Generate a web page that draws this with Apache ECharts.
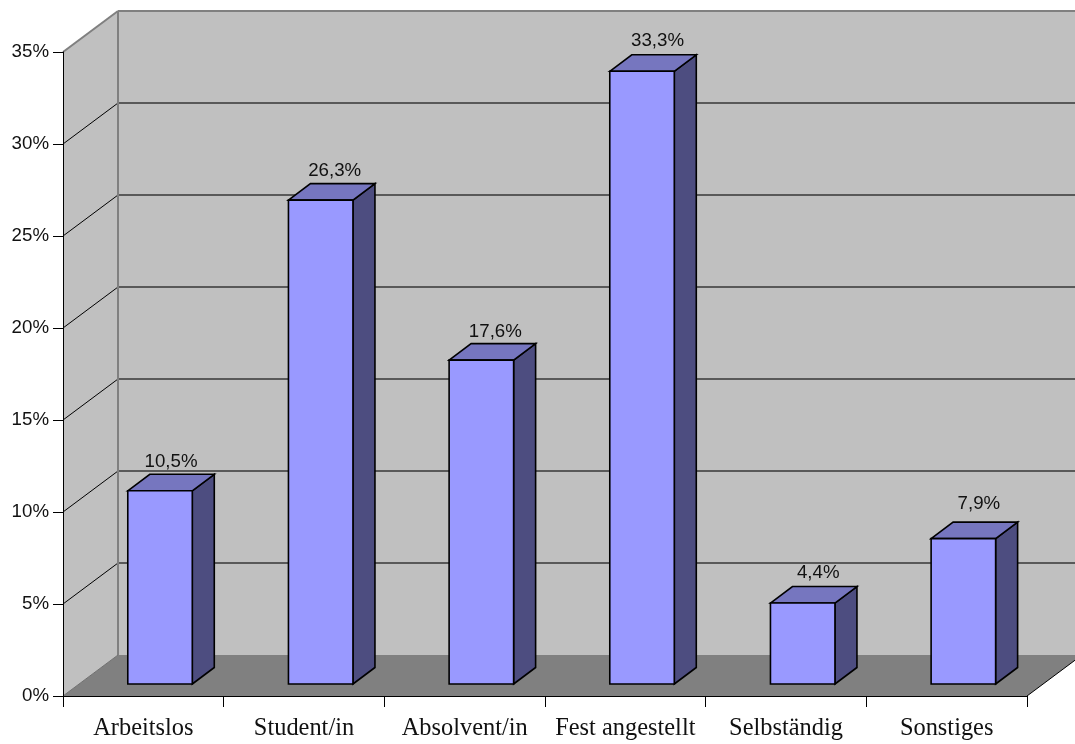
<!DOCTYPE html>
<html>
<head>
<meta charset="utf-8">
<style>html,body{margin:0;padding:0;background:#fff}#chart{width:1075px;height:744px}</style>
<script src="https://cdn.jsdelivr.net/npm/echarts@6/dist/echarts.min.js"></script>
</head>
<body>
<div id="chart"></div>
<script>
// Occupation shares, in percent
const categories = ['Arbeitslos', 'Student/in', 'Absolvent/in', 'Fest angestellt', 'Selbständig', 'Sonstiges'];
const shares = [10.5, 26.3, 17.6, 33.3, 4.4, 7.9];
const gridValues = [5, 10, 15, 20, 25, 30];

// Oblique projection of the chart box and of each column
const BOX_DX = 55, BOX_DY = -41;
const BAR_DX = 22, BAR_DY = -16.5;
const BAR_SHIFT_X = 16.7, BAR_SHIFT_Y = -12, BAR_WIDTH = 64.5;

// Hand-placed offsets of the value labels above the columns
const labelNudgeX = [-5.5, -2.5, -2.5, -1, -1, -1];
const labelNudgeY = [1, 1, 2, 0, 0, -5];

const poly = (points, fill, stroke, lineWidth, z2) => ({
  type: 'polygon',
  z2: z2 || 0,
  shape: { points },
  style: { fill, stroke: stroke || 'none', lineWidth: lineWidth || 0, lineJoin: 'miter' }
});
const seg = (x1, y1, x2, y2, stroke, lineWidth, z2) => ({
  type: 'line',
  z2: z2 || 0,
  shape: { x1, y1, x2, y2 },
  style: { stroke, lineWidth }
});

function renderBox(params, api) {
  const c = params.coordSys;
  const l = c.x, r = c.x + c.width, t = c.y, b = c.y + c.height;
  const bl = l + BOX_DX, br = r + BOX_DX, bt = t + BOX_DY, bb = b + BOX_DY;
  const children = [
    poly([[l, t], [bl, bt], [bl, bb], [l, b]], '#c0c0c0'),
    poly([[bl, bt], [br, bt], [br, bb], [bl, bb]], '#c0c0c0'),
    poly([[l, b], [bl, bb], [br, bb], [r, b]], '#808080'),
    seg(l, t, bl, bt, '#808080', 2, 3),
    seg(bl, bt, br, bt, '#808080', 2, 3),
    seg(bl, bt, bl, bb, '#808080', 2, 3),
    seg(l, b, bl, bb, '#707070', 1, 3),
    seg(r, b, br, bb, '#000000', 1, 3)
  ];
  gridValues.forEach(v => {
    const y = api.coord([0, v])[1];
    children.push(seg(l, y, bl, y + BOX_DY, '#000000', 1, 2));
    children.push(seg(bl, y + BOX_DY, br, y + BOX_DY, '#595959', 2, 2));
  });
  return { type: 'group', children };
}

function renderBar(params, api) {
  const value = api.value(1);
  const i = params.dataIndex;
  const center = api.coord([api.value(0), 0])[0] + BAR_SHIFT_X;
  const x0 = center - BAR_WIDTH / 2, x1 = center + BAR_WIDTH / 2;
  const y0 = api.coord([0, 0])[1] + BAR_SHIFT_Y;
  const yt = y0 - (api.coord([0, 0])[1] - api.coord([0, value])[1]);
  const edge = '#000000';
  return {
    type: 'group',
    children: [
      poly([[x1, y0], [x1 + BAR_DX, y0 + BAR_DY], [x1 + BAR_DX, yt + BAR_DY], [x1, yt]], '#4d4d80', edge, 1.6),
      poly([[x0, yt], [x0 + BAR_DX, yt + BAR_DY], [x1 + BAR_DX, yt + BAR_DY], [x1, yt]], '#7676bf', edge, 1.6),
      poly([[x0, y0], [x1, y0], [x1, yt], [x0, yt]], '#9999ff', edge, 1.6),
      {
        type: 'text',
        style: {
          x: center + BAR_DX * 0.75 + labelNudgeX[i],
          y: yt - 30 + labelNudgeY[i],
          text: value.toFixed(1).replace('.', ',') + '%',
          fill: '#111111',
          font: '18.7px "Liberation Sans", Arial, sans-serif',
          align: 'center',
          verticalAlign: 'middle'
        }
      }
    ]
  };
}

const chart = echarts.init(document.getElementById('chart'), null, { renderer: 'canvas' });
chart.setOption({
  animation: false,
  backgroundColor: '#ffffff',
  grid: { left: 63, right: 48, top: 52, bottom: 48, containLabel: false },
  xAxis: {
    type: 'category',
    data: categories,
    z: 6,
    axisLine: { lineStyle: { color: '#000000', width: 1 } },
    axisTick: { show: true, length: 11, alignWithLabel: false, lineStyle: { color: '#000000' } },
    axisLabel: {
      interval: 0,
      margin: 21,
      color: '#111111',
      fontFamily: '"Liberation Serif", "Times New Roman", serif',
      fontSize: 24.4
    }
  },
  yAxis: {
    type: 'value',
    min: 0,
    max: 35,
    interval: 5,
    z: 6,
    splitLine: { show: false },
    axisLine: { show: true, lineStyle: { color: '#000000', width: 1 } },
    axisTick: { show: true, length: 10, lineStyle: { color: '#000000' } },
    axisLabel: {
      margin: 14,
      color: '#111111',
      fontFamily: '"Liberation Sans", Arial, sans-serif',
      fontSize: 18.7,
      formatter: '{value}%'
    }
  },
  series: [
    {
      type: 'custom',
      z: 1,
      silent: true,
      renderItem: renderBox,
      data: [0],
      encode: { x: 0, y: 0 }
    },
    {
      type: 'custom',
      z: 3,
      renderItem: renderBar,
      data: shares.map((v, i) => [i, v]),
      encode: { x: 0, y: 1 }
    }
  ]
});
</script>
</body>
</html>
